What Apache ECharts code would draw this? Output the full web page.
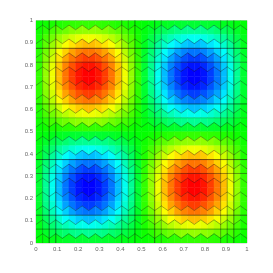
<!DOCTYPE html>
<html><head><meta charset="utf-8">
<style>html,body{margin:0;padding:0;background:#fff}#c{width:273px;height:273px}</style>
<script src="https://cdn.jsdelivr.net/npm/echarts@6/dist/echarts.min.js"></script>
</head><body><div id="c"></div>
<script>
const zRows = [
[1,3,5,6,8,9,10,10,10,10,9,8,6,5,3,1,-1,-3,-5,-6,-8,-9,-10,-10,-10,-10,-9,-8,-6,-5,-3,-1],
[3,8,14,18,22,26,28,29,29,28,26,22,18,14,8,3,-3,-8,-14,-18,-22,-26,-28,-29,-29,-28,-26,-22,-18,-14,-8,-3],
[5,14,22,30,36,41,45,47,47,45,41,36,30,22,14,5,-5,-14,-22,-30,-36,-41,-45,-47,-47,-45,-41,-36,-30,-22,-14,-5],
[6,18,30,40,49,55,60,63,63,60,55,49,40,30,18,6,-6,-18,-30,-40,-49,-55,-60,-63,-63,-60,-55,-49,-40,-30,-18,-6],
[8,22,36,49,59,68,74,77,77,74,68,59,49,36,22,8,-8,-22,-36,-49,-59,-68,-74,-77,-77,-74,-68,-59,-49,-36,-22,-8],
[9,26,41,55,68,77,84,88,88,84,77,68,55,41,26,9,-9,-26,-41,-55,-68,-77,-84,-88,-88,-84,-77,-68,-55,-41,-26,-9],
[10,28,45,60,74,84,92,96,96,92,84,74,60,45,28,10,-10,-28,-45,-60,-74,-84,-92,-96,-96,-92,-84,-74,-60,-45,-28,-10],
[10,29,47,63,77,88,96,100,100,96,88,77,63,47,29,10,-10,-29,-47,-63,-77,-88,-96,-100,-100,-96,-88,-77,-63,-47,-29,-10],
[10,29,47,63,77,88,96,100,100,96,88,77,63,47,29,10,-10,-29,-47,-63,-77,-88,-96,-100,-100,-96,-88,-77,-63,-47,-29,-10],
[10,28,45,60,74,84,92,96,96,92,84,74,60,45,28,10,-10,-28,-45,-60,-74,-84,-92,-96,-96,-92,-84,-74,-60,-45,-28,-10],
[9,26,41,55,68,77,84,88,88,84,77,68,55,41,26,9,-9,-26,-41,-55,-68,-77,-84,-88,-88,-84,-77,-68,-55,-41,-26,-9],
[8,22,36,49,59,68,74,77,77,74,68,59,49,36,22,8,-8,-22,-36,-49,-59,-68,-74,-77,-77,-74,-68,-59,-49,-36,-22,-8],
[6,18,30,40,49,55,60,63,63,60,55,49,40,30,18,6,-6,-18,-30,-40,-49,-55,-60,-63,-63,-60,-55,-49,-40,-30,-18,-6],
[5,14,22,30,36,41,45,47,47,45,41,36,30,22,14,5,-5,-14,-22,-30,-36,-41,-45,-47,-47,-45,-41,-36,-30,-22,-14,-5],
[3,8,14,18,22,26,28,29,29,28,26,22,18,14,8,3,-3,-8,-14,-18,-22,-26,-28,-29,-29,-28,-26,-22,-18,-14,-8,-3],
[1,3,5,6,8,9,10,10,10,10,9,8,6,5,3,1,-1,-3,-5,-6,-8,-9,-10,-10,-10,-10,-9,-8,-6,-5,-3,-1],
[-1,-3,-5,-6,-8,-9,-10,-10,-10,-10,-9,-8,-6,-5,-3,-1,1,3,5,6,8,9,10,10,10,10,9,8,6,5,3,1],
[-3,-8,-14,-18,-22,-26,-28,-29,-29,-28,-26,-22,-18,-14,-8,-3,3,8,14,18,22,26,28,29,29,28,26,22,18,14,8,3],
[-5,-14,-22,-30,-36,-41,-45,-47,-47,-45,-41,-36,-30,-22,-14,-5,5,14,22,30,36,41,45,47,47,45,41,36,30,22,14,5],
[-6,-18,-30,-40,-49,-55,-60,-63,-63,-60,-55,-49,-40,-30,-18,-6,6,18,30,40,49,55,60,63,63,60,55,49,40,30,18,6],
[-8,-22,-36,-49,-59,-68,-74,-77,-77,-74,-68,-59,-49,-36,-22,-8,8,22,36,49,59,68,74,77,77,74,68,59,49,36,22,8],
[-9,-26,-41,-55,-68,-77,-84,-88,-88,-84,-77,-68,-55,-41,-26,-9,9,26,41,55,68,77,84,88,88,84,77,68,55,41,26,9],
[-10,-28,-45,-60,-74,-84,-92,-96,-96,-92,-84,-74,-60,-45,-28,-10,10,28,45,60,74,84,92,96,96,92,84,74,60,45,28,10],
[-10,-29,-47,-63,-77,-88,-96,-100,-100,-96,-88,-77,-63,-47,-29,-10,10,29,47,63,77,88,96,100,100,96,88,77,63,47,29,10],
[-10,-29,-47,-63,-77,-88,-96,-100,-100,-96,-88,-77,-63,-47,-29,-10,10,29,47,63,77,88,96,100,100,96,88,77,63,47,29,10],
[-10,-28,-45,-60,-74,-84,-92,-96,-96,-92,-84,-74,-60,-45,-28,-10,10,28,45,60,74,84,92,96,96,92,84,74,60,45,28,10],
[-9,-26,-41,-55,-68,-77,-84,-88,-88,-84,-77,-68,-55,-41,-26,-9,9,26,41,55,68,77,84,88,88,84,77,68,55,41,26,9],
[-8,-22,-36,-49,-59,-68,-74,-77,-77,-74,-68,-59,-49,-36,-22,-8,8,22,36,49,59,68,74,77,77,74,68,59,49,36,22,8],
[-6,-18,-30,-40,-49,-55,-60,-63,-63,-60,-55,-49,-40,-30,-18,-6,6,18,30,40,49,55,60,63,63,60,55,49,40,30,18,6],
[-5,-14,-22,-30,-36,-41,-45,-47,-47,-45,-41,-36,-30,-22,-14,-5,5,14,22,30,36,41,45,47,47,45,41,36,30,22,14,5],
[-3,-8,-14,-18,-22,-26,-28,-29,-29,-28,-26,-22,-18,-14,-8,-3,3,8,14,18,22,26,28,29,29,28,26,22,18,14,8,3],
[-1,-3,-5,-6,-8,-9,-10,-10,-10,-10,-9,-8,-6,-5,-3,-1,1,3,5,6,8,9,10,10,10,10,9,8,6,5,3,1]
];
const colorStops = ['#0000ff','#00ffff','#00ff00','#ffff00','#ff0000'];
const tickValues = [0,0.1,0.2,0.3,0.4,0.5,0.6,0.7,0.8,0.9,1];
// mesh lines: position in sixteenths (rows) / thirty-seconds (columns) and darkness
const rowLines = [14,13,10,9,6,5,2,1];
const rowAlpha = [0.7,0.5,0.65,0.25,0.7,0.5,0.65,0.45];
const colLines = [1,2,3,13,14,15,18,19,28,29,30];
const colAlpha = [0.35,0.65,0.65,0.5,0.35,0.6,0.65,0.4,0.45,0.45,0.6];
const zigLow = 1/3, zigHigh = 2/3;
const nCols = 32, nBands = 16;

const zigY = (band, col) => (band + (col % 2 === 0 ? zigLow : zigHigh)) / nBands;

const cells = [];
zRows.forEach((row, j) => row.forEach((z, i) => cells.push([i, j, z])));

function renderCell(params, api) {
  const i = api.value(0), j = api.value(1);
  const band = nBands - 1 - Math.floor(j / 2);
  const upper = j % 2 === 0;
  const pts = upper
    ? [[i/nCols,(band+1)/nBands],[(i+1)/nCols,(band+1)/nBands],[(i+1)/nCols,zigY(band,i+1)],[i/nCols,zigY(band,i)]]
    : [[i/nCols,zigY(band,i)],[(i+1)/nCols,zigY(band,i+1)],[(i+1)/nCols,band/nBands],[i/nCols,band/nBands]];
  const color = api.visual('color');
  return {type:'polygon', shape:{points:pts.map(p=>api.coord(p))},
    style:{fill:color, stroke:color, lineWidth:0.5}};
}

const series = [{type:'custom', data:cells, renderItem:renderCell, encode:{x:0,y:1},
  clip:true, silent:true, animation:false, z:1}];
const lineBase = {type:'line', showSymbol:false, silent:true, animation:false, z:3};
for (let b = 0; b < nBands; b++) {
  const d = [];
  for (let c = 0; c <= nCols; c++) d.push([c/nCols, zigY(b,c)]);
  series.push({...lineBase, data:d, lineStyle:{color:'rgba(0,0,0,0.42)', width:0.8}});
}
rowLines.forEach((r,k) => series.push({...lineBase, data:[[0,r/nBands],[1,r/nBands]],
  lineStyle:{color:`rgba(0,0,0,${rowAlpha[k]})`, width:0.8}}));
colLines.forEach((c,k) => series.push({...lineBase, data:[[c/nCols,0],[c/nCols,1]],
  lineStyle:{color:`rgba(0,0,0,${colAlpha[k]})`, width:0.8}}));

const axisCommon = {type:'value', min:0, max:1, interval:0.1,
  axisLine:{show:false}, axisTick:{show:false}, splitLine:{show:false},
  axisLabel:{fontSize:6, color:'#666', fontFamily:'Liberation Sans', margin:3,
    formatter:v => String(tickValues.find(t => Math.abs(t-v)<1e-6))}};
const chart = echarts.init(document.getElementById('c'), null, {renderer:'canvas'});
chart.setOption({
  animation:false,
  backgroundColor:'#fff',
  grid:{left:36, top:20.5, width:211, height:222.5, show:true, borderColor:'#c4c4c4', borderWidth:1, backgroundColor:'transparent'},
  xAxis:axisCommon, yAxis:axisCommon,
  visualMap:{show:false, type:'continuous', min:-100, max:100, dimension:2, seriesIndex:0, inRange:{color:colorStops}},
  series
});
</script></body></html>
